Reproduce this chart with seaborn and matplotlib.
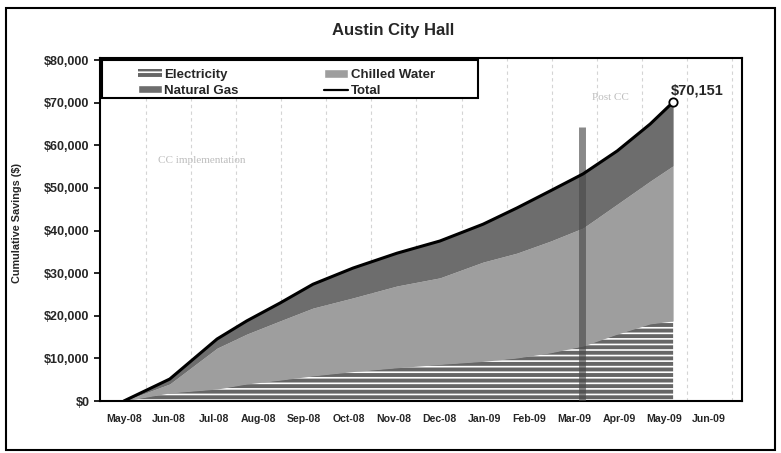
import matplotlib
matplotlib.use("Agg")
import matplotlib.pyplot as plt
import matplotlib.patches as mpatches
from matplotlib.lines import Line2D
import seaborn as sns
import numpy as np
import pandas as pd

# ---- data (x = months after May-08) ----
month_pos = [0, 1.02, 2.07, 2.73, 3.47, 4.2, 5.09, 6.07, 7.02, 7.98, 8.73, 9.47, 10.2, 10.96, 11.69, 12.2]
electricity = [0, 1900, 2800, 4000, 4900, 5900, 6900, 7800, 8600, 9300, 10100, 11300, 12900, 15700, 18100, 18800]
chilled_water = [0, 2100, 9600, 11700, 13900, 15900, 17300, 19200, 20300, 23300, 24600, 26200, 27700, 30500, 33500, 36400]
natural_gas = [0, 1160, 2150, 3100, 4200, 5600, 7000, 7700, 8650, 8900, 10600, 11800, 12700, 12500, 13400, 14951]
total = [0, 5160, 14550, 18800, 23000, 27400, 31200, 34700, 37550, 41500, 45300, 49300, 53300, 58700, 65000, 70151]
month_labels = ["May-08", "Jun-08", "Jul-08", "Aug-08", "Sep-08", "Oct-08", "Nov-08",
                "Dec-08", "Jan-09", "Feb-09", "Mar-09", "Apr-09", "May-09", "Jun-09"]
y_ticks = [0, 10000, 20000, 30000, 40000, 50000, 60000, 70000, 80000]
post_cc_pos = 10.18
post_cc_top = 64400
final_label = "$70,151"

df = pd.DataFrame({"month": month_pos, "Total": total})

sns.set_theme(style="white")
plt.rcParams['font.family'] = ['Liberation Sans', 'DejaVu Sans']
plt.rcParams['hatch.linewidth'] = 2.8

fig = plt.figure(figsize=(7.81, 4.53), dpi=100)
ax = fig.add_axes([100/781, 1-401/453, 642/781, 343/453])

# vertical dashed gridlines between months
for i in range(len(month_labels)):
    ax.axvline(i + 0.5, color="#d4d4d4", lw=0.8, ls=(0, (3, 3)), zorder=0)

polys = ax.stackplot(month_pos, electricity, chilled_water, natural_gas,
                     colors=["white", "#9e9e9e", "#6d6d6d"], zorder=2, lw=0)
polys[0].set_hatch("---")
polys[0].set_edgecolor("#666666")

# Post CC marker bar
ax.plot([post_cc_pos, post_cc_pos], [0, post_cc_top], color="#4a4a4a", lw=5,
        alpha=0.65, zorder=3, solid_capstyle="butt")

sns.lineplot(data=df, x="month", y="Total", ax=ax, color="black", lw=2.2, zorder=4, legend=False)
ax.plot([month_pos[-1]], [total[-1]], marker="o", ms=6, mfc="white", mec="black", mew=1.3, zorder=5)
ax.text(month_pos[-1] - 0.05, total[-1] + 1000, final_label, fontsize=10.5, fontweight="bold",
        ha="left", va="bottom", zorder=6)

# faint annotations
ax.text(10.4, 71200, "Post CC", fontsize=8, color="#bdbdbd", ha="left", va="center",
        family=["Liberation Serif", "DejaVu Serif"])
ax.text(0.75, 56500, "CC implementation", fontsize=8, color="#bdbdbd", ha="left", va="center",
        family=["Liberation Serif", "DejaVu Serif"])

ax.set_xlim(-0.53, 13.73)
ax.set_ylim(0, 80500)
ax.set_xticks(range(len(month_labels)))
ax.set_xticklabels(month_labels, fontsize=7.6, fontweight="bold")
ax.set_xticks([i + 0.5 for i in range(-1, len(month_labels))], minor=True)
ax.tick_params(axis="x", which="major", length=0, pad=9)
ax.tick_params(axis="x", which="minor", length=4, width=1.2, direction="out", color="black")
ax.set_yticks(y_ticks)
ax.set_yticklabels([f"${v:,.0f}" for v in y_ticks], fontsize=9, fontweight="bold")
ax.tick_params(axis="y", length=4, width=1.2, direction="out", color="black", left=True)
ax.set_xlabel("")
ax.set_ylabel("")
for s in ax.spines.values():
    s.set_visible(True)
    s.set_color("black")
    s.set_linewidth(1.5)

handles = [
    mpatches.Patch(facecolor="white", edgecolor="#666666", hatch="---", lw=0, label="Electricity"),
    mpatches.Patch(facecolor="#6d6d6d", label="Natural Gas"),
    mpatches.Patch(facecolor="#9e9e9e", label="Chilled Water"),
    Line2D([0], [0], color="black", lw=1.6, label="Total"),
]
# legend frame
ax.add_patch(mpatches.Rectangle((0.003, 0.883), 0.586, 0.111, transform=ax.transAxes,
                                facecolor="white", edgecolor="black", lw=1.5, zorder=6))
leg = ax.legend(handles=handles, ncol=2, loc="upper left",
                bbox_to_anchor=(0.059, 0.968),
                prop={"weight": "bold", "size": 9.5}, frameon=False,
                borderaxespad=0, borderpad=0, handlelength=1.8, handleheight=0.6,
                labelspacing=0.3, handletextpad=0.2, columnspacing=6.5)
leg.set_zorder(7)

fig.suptitle("Austin City Hall", x=0.503, y=1-31/453, va="center", fontsize=12, fontweight="bold")
fig.text(17/781, 1-223/453, "Cumulative Savings ($)", rotation=90, fontsize=7.8, fontweight="bold",
         ha="center", va="center")

fig.patches.append(mpatches.Rectangle((6/781, 3/453), 769/781, 442/453, transform=fig.transFigure,
                                      fill=False, edgecolor="black", lw=1.5))

fig.savefig("out.png", dpi=100)
